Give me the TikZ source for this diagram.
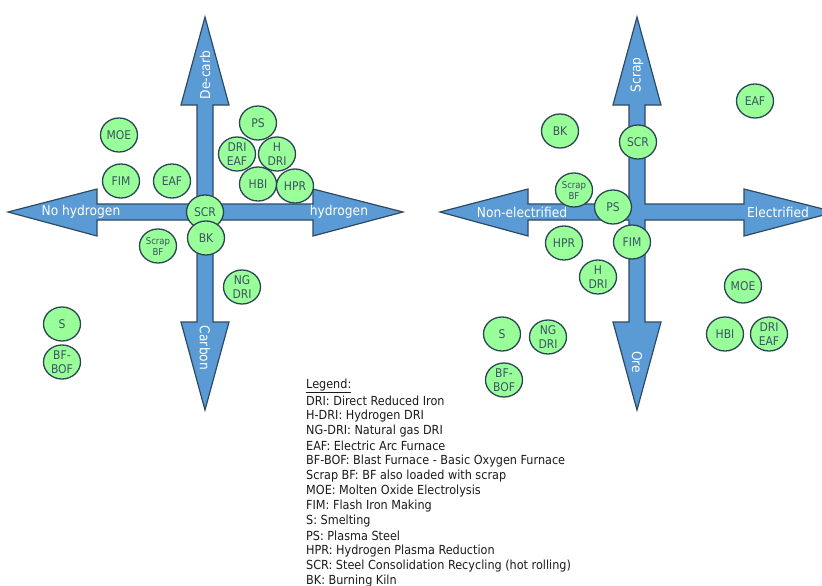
\documentclass[tikz,border=0pt]{standalone}
\usepackage{fontspec}
\setmainfont{DejaVu Sans Condensed}
\usetikzlibrary{shapes.geometric}
\definecolor{arrowblue}{HTML}{5B9BD5}
\definecolor{arrowedge}{HTML}{2E4A62}
\definecolor{blobgreen}{HTML}{99FF99}
\definecolor{blobedge}{HTML}{2B4556}
\definecolor{blobtext}{HTML}{3A5262}
\definecolor{legendtext}{HTML}{1A1A1A}
\begin{document}
\begin{tikzpicture}[x=1pt,y=-1pt,
  arrowshape/.style={fill=arrowblue, draw=arrowedge, line width=1.2pt, line join=miter},
  blob/.style={ellipse, draw=blobedge, fill=blobgreen, line width=1.3pt, minimum width=37pt, minimum height=34pt, inner sep=0pt, text=blobtext, font=\fontsize{12}{13.5}\selectfont, align=center},
  smallblob/.style={blob, font=\fontsize{9.5}{11}\selectfont},
  axislabel/.style={text=white, font=\fontsize{13.6}{15}\selectfont, inner sep=0pt},
  legendline/.style={anchor=west, inner sep=0pt, text=legendtext, font=\fontsize{12.5}{14}\selectfont}
]
\useasboundingbox (0,0) rectangle (822,586);
\begin{scope}
\clip (0,0) rectangle (822,586);
% left cross
\draw[arrowshape] (205,17) -- (229,105) -- (213,105) -- (213,204) -- (313,204) -- (313,189) -- (403,212) -- (313,236) -- (313,220) -- (213,220) -- (213,322) -- (229,322) -- (205,410) -- (181,322) -- (197,322) -- (197,220) -- (97,220) -- (97,236) -- (8,212) -- (97,189) -- (97,204) -- (197,204) -- (197,105) -- (181,105) -- cycle;
% right cross
\draw[arrowshape] (637,17) -- (661,105) -- (645,105) -- (645,204) -- (744,204) -- (744,189) -- (835,212) -- (744,236) -- (744,220) -- (645,220) -- (645,322) -- (661,322) -- (637,410) -- (613,322) -- (629,322) -- (629,220) -- (528,220) -- (528,236) -- (440,212) -- (528,189) -- (528,204) -- (629,204) -- (629,105) -- (613,105) -- cycle;
\end{scope}
% axis labels
\node[axislabel, rotate=90] (decarb) at (205,75) {De-carb};
\node[axislabel, rotate=-90] (carbon) at (205,348) {Carbon};
\node[axislabel] (noh) at (81,212) {No hydrogen};
\node[axislabel] (hyd) at (339,212) {hydrogen};
\node[axislabel, rotate=90] (scrap) at (637,75) {Scrap};
\node[axislabel, rotate=-90] (ore) at (637,362) {Ore};
\node[axislabel] (nonel) at (522,212) {Non-electrified};
\node[axislabel] (elec) at (778,212) {Electrified};
% left circles
\node[blob] (lMOE) at (119,135) {MOE};
\node[blob] (lFIM) at (121,181) {FIM};
\node[blob] (lEAF) at (172,181) {EAF};
\node[blob] (lPS) at (258,123) {PS};
\node[blob] (lDRIEAF) at (237,154) {DRI\\EAF};
\node[blob] (lHDRI) at (277,154) {H\\DRI};
\node[blob] (lHBI) at (258,184) {HBI};
\node[blob] (lHPR) at (295,186) {HPR};
\node[blob] (lSCR) at (205,212) {SCR};
\node[blob] (lBK) at (206,238) {BK};
\node[smallblob] (lScrapBF) at (158,246) {Scrap\\BF};
\node[blob] (lNGDRI) at (242,287) {NG\\DRI};
\node[blob] (lS) at (62,324) {S};
\node[blob] (lBFBOF) at (62,362) {BF-\\BOF};
% right circles
\node[blob] (rEAF) at (755,101) {EAF};
\node[blob] (rBK) at (560,131) {BK};
\node[blob] (rSCR) at (638,142) {SCR};
\node[smallblob] (rScrapBF) at (574,190) {Scrap\\BF};
\node[blob] (rPS) at (613,207) {PS};
\node[blob] (rHPR) at (564,243) {HPR};
\node[blob] (rFIM) at (632,242) {FIM};
\node[blob] (rHDRI) at (598,277) {H\\DRI};
\node[blob] (rMOE) at (743,286) {MOE};
\node[blob] (rS) at (502,334) {S};
\node[blob] (rNGDRI) at (548,337) {NG\\DRI};
\node[blob] (rBFBOF) at (504,380) {BF-\\BOF};
\node[blob] (rHBI) at (725,334) {HBI};
\node[blob] (rDRIEAF) at (769,334) {DRI\\EAF};
% legend
\node[legendline] (lg0) at (306,386) {\underline{Legend:}};
\node[legendline] (lg1) at (306,401) {DRI: Direct Reduced Iron};
\node[legendline] (lg2) at (306,416) {H-DRI: Hydrogen DRI};
\node[legendline] (lg3) at (306,431) {NG-DRI: Natural gas DRI};
\node[legendline] (lg4) at (306,446) {EAF: Electric Arc Furnace};
\node[legendline] (lg5) at (306,461) {BF-BOF: Blast Furnace - Basic Oxygen Furnace};
\node[legendline] (lg6) at (306,476) {Scrap BF: BF also loaded with scrap};
\node[legendline] (lg7) at (306,491) {MOE: Molten Oxide Electrolysis};
\node[legendline] (lg8) at (306,506) {FIM: Flash Iron Making};
\node[legendline] (lg9) at (306,521) {S: Smelting};
\node[legendline] (lg10) at (306,536) {PS: Plasma Steel};
\node[legendline] (lg11) at (306,551) {HPR: Hydrogen Plasma Reduction};
\node[legendline] (lg12) at (306,566) {SCR: Steel Consolidation Recycling (hot rolling)};
\node[legendline] (lg13) at (306,581) {BK: Burning Kiln};
\end{tikzpicture}
\end{document}
